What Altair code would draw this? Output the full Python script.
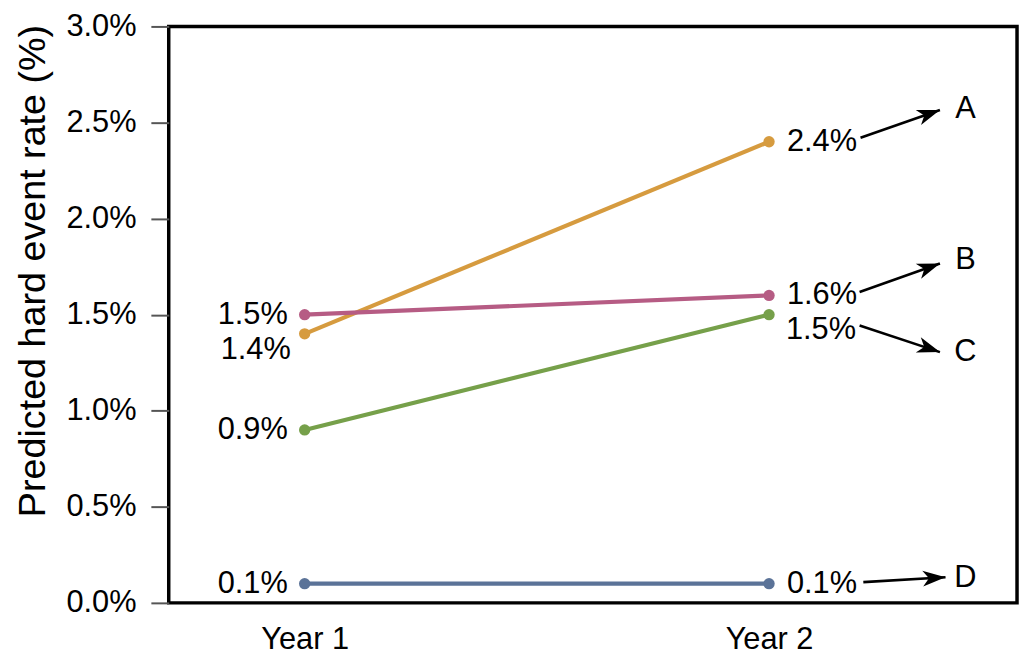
import math
import json
import altair as alt
import pandas as pd

# ---------------- data ----------------
series = ["A", "B", "C", "D"]
year_names = ["Year 1", "Year 2"]
year_pos = [1, 2]
rate_year1 = [1.4, 1.5, 0.9, 0.1]
rate_year2 = [2.4, 1.6, 1.5, 0.1]
label_year1 = ["1.4%", "1.5%", "0.9%", "0.1%"]
label_year2 = ["2.4%", "1.6%", "1.5%", "0.1%"]
colors = ["#D69B3F", "#B65C84", "#76A04A", "#5B7398"]
y_ticks = [0.0, 0.5, 1.0, 1.5, 2.0, 2.5, 3.0]

# annotation arrows pointing to series letters (data units)
arrow_x_start = [2.197, 2.195, 2.195, 2.203]
arrow_y_start = [2.421, 1.618, 1.444, 0.108]
arrow_x_end = [2.368, 2.368, 2.368, 2.380]
arrow_y_end = [2.565, 1.766, 1.305, 0.133]
letter_x = [2.423, 2.423, 2.423, 2.423]
letter_y = [2.570, 1.782, 1.305, 0.128]

# ---------------- layout ----------------
W, H = 855, 581
x_domain = [0.7073, 2.534]
y_domain = [0.0, 3.0]
FONT = "Liberation Sans"
FS = 31

rows = []
for i, s in enumerate(series):
    rows.append(dict(series=s, x=year_pos[0], rate=rate_year1[i], label=label_year1[i]))
    rows.append(dict(series=s, x=year_pos[1], rate=rate_year2[i], label=label_year2[i]))
pts = pd.DataFrame(rows)

px_x = W / (x_domain[1] - x_domain[0])
px_y = H / (y_domain[1] - y_domain[0])
arr = pd.DataFrame(dict(series=series, x=arrow_x_start, y=arrow_y_start,
                        x2=arrow_x_end, y2=arrow_y_end, lx=letter_x, ly=letter_y))
arr["angle"] = [
    (math.degrees(math.atan2(-(y2 - y1) * px_y, (x2 - x1) * px_x)) + 360) % 360
    for x1, y1, x2, y2 in zip(arr.x, arr.y, arr.x2, arr.y2)
]

xs = alt.Scale(domain=x_domain, nice=False, zero=False)
ys = alt.Scale(domain=y_domain, nice=False, zero=False)
cs = alt.Scale(domain=series, range=colors)

X = alt.X("x:Q", scale=xs, axis=alt.Axis(
    values=year_pos, labelExpr="datum.value == 1 ? 'Year 1' : 'Year 2'",
    ticks=False, domain=False, grid=False, title=None,
    labelPadding=22, labelFontSize=31, labelFont=FONT, labelColor="black"))
Y = alt.Y("rate:Q", scale=ys, axis=alt.Axis(
    values=y_ticks, labelExpr="format(datum.value, '.1f') + '%'",
    tickSize=18, tickWidth=2, tickColor="#555555", domain=False, grid=False,
    labelPadding=15, labelFontSize=FS, labelFont=FONT, labelColor="black",
    title="Predicted hard event rate (%)", titleFontSize=38, titleFont=FONT,
    titleFontWeight="normal", titleColor="black", titlePadding=14, titleY=246))

base = alt.Chart(pts)
lines = base.mark_line(strokeWidth=4.2).encode(
    x=X, y=Y, color=alt.Color("series:N", scale=cs, legend=None), detail="series:N")
dots = base.mark_circle(size=130, opacity=1).encode(
    x="x:Q", y="rate:Q", color=alt.Color("series:N", scale=cs, legend=None))

layers = [lines, dots]
# value labels: (x position, series, dx, dy, align)
label_specs = [
    (1, ["B", "C", "D"], -17, 0, "right"),
    (1, ["A"], -14, 16, "right"),
    (2, ["A", "B", "D"], 18, 0, "left"),
    (2, ["C"], 17, 16, "left"),
]
for xv, ss, dx, dy, al in label_specs:
    expr = f"datum.x == {xv} && indexof({json.dumps(ss)}, datum.series) >= 0"
    layers.append(
        base.transform_filter(expr)
        .mark_text(dx=dx, dy=dy, align=al, baseline="middle", fontSize=FS, font=FONT, color="black")
        .encode(x="x:Q", y="rate:Q", text="label:N")
    )

abase = alt.Chart(arr)
rules = abase.mark_rule(strokeWidth=2.6, color="black").encode(
    x="x:Q", y=alt.Y("y:Q"), x2="x2:Q", y2="y2:Q")
heads = abase.mark_point(
    shape="M0,0 L-2,-0.7 L-1.45,0 L-2,0.7 Z", size=529, filled=True,
    color="black", opacity=1, strokeWidth=0).encode(
    x="x2:Q", y="y2:Q", angle=alt.Angle("angle:Q", scale=None))
letters = abase.mark_text(align="center", baseline="middle", fontSize=FS,
                          font=FONT, color="black").encode(
    x="lx:Q", y="ly:Q", text="series:N")
layers += [rules, heads, letters]

chart = alt.layer(*layers).properties(
    width=W, height=H,
    background="white",
    autosize=alt.AutoSizeParams(type="none"),
    padding={"left": 162, "top": 16, "right": 3, "bottom": 55},
).configure_view(stroke="black", strokeWidth=3.5)

chart.save("out.html", embed_options={"renderer": "svg", "actions": False})
